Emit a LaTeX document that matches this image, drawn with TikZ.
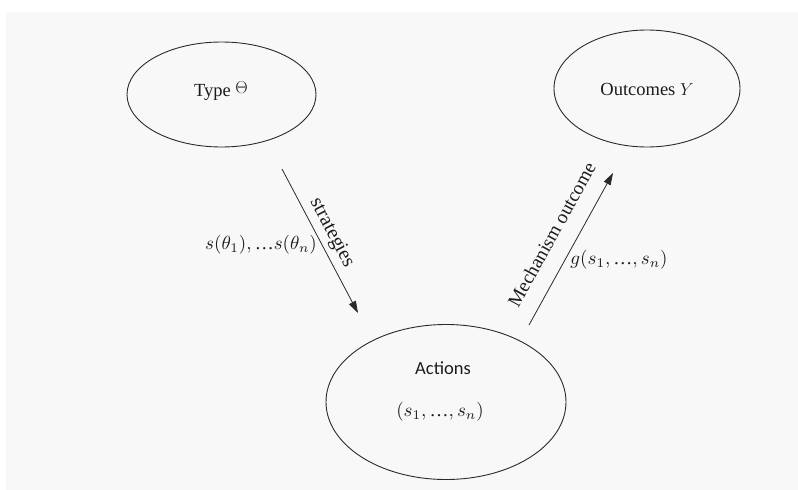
\documentclass[tikz,border=0pt]{standalone}
\usepackage{fontspec}
\setmainfont{Liberation Serif}
\newfontfamily\tms{Liberation Serif}
\newfontfamily\calib{Carlito}
\usetikzlibrary{arrows.meta,shapes.geometric}
\definecolor{bggray}{HTML}{F8F8F8}
\definecolor{ink}{HTML}{1C1C1C}
\definecolor{lineink}{HTML}{2A2A2A}
\newcommand{\mdots}{\mbox{\tms …}}
\tikzset{
  oval/.style={ellipse, draw=lineink, line width=0.9pt, inner sep=0pt},
  flow/.style={draw=lineink, line width=0.8pt, -{Triangle[length=12pt,width=7.5pt]}},
  lbl/.style={text=ink, font=\tms\fontsize{18.5}{22}\selectfont, inner sep=0pt},
  mlbl/.style={text=ink, font=\tms\fontsize{10}{12}\selectfont, inner sep=0pt, scale=1.9},
  slbl/.style={text=ink, font=\tms\fontsize{20}{24}\selectfont, inner sep=0pt, sloped, anchor=center}
}
\begin{document}
\begin{tikzpicture}[x=1pt,y=-1pt]
\useasboundingbox (0,0) rectangle (798,490);
\fill[white] (0,0) rectangle (798,490);
\fill[bggray] (6,12) rectangle (798,490);

\node[oval, minimum width=189pt, minimum height=105pt] (type) at (221.5,94.5) {};
\node[lbl] (typelbl) at (221,91) {Type \raisebox{2.5pt}{$\Theta$}};

\node[oval, minimum width=186pt, minimum height=117pt] (out) at (647,88.5) {};
\node[lbl] (outlbl) at (647,89) {Outcomes $Y$};

\node[oval, minimum width=240pt, minimum height=155pt] (act) at (446,402) {};
\node[lbl, font=\calib\fontsize{18.5}{22}\selectfont] (actlbl) at (443,368) {Actions};
\node[mlbl] (actmath) at (440,412) {$(s_1,\mdots,s_n)$};

\coordinate (a1s) at (282,169);
\coordinate (a1e) at (358,313);
\coordinate (a2s) at (529,325);
\coordinate (a2e) at (613,173);

\draw[flow] (a1s) -- node[slbl, pos=0.49, yshift=14pt] (strat) {strategies} (a1e);
\draw[flow] (a2s) -- node[slbl, font=\tms\fontsize{19.3}{23}\selectfont, pos=0.52, yshift=24pt] (mech) {Mechanism outcome} (a2e);

\node[mlbl] (sth) at (261,245) {$s(\theta_1),\mdots s(\theta_n)$};
\node[mlbl] (gs) at (619,260) {$g(s_1,\mdots,s_n)$};
\end{tikzpicture}
\end{document}
